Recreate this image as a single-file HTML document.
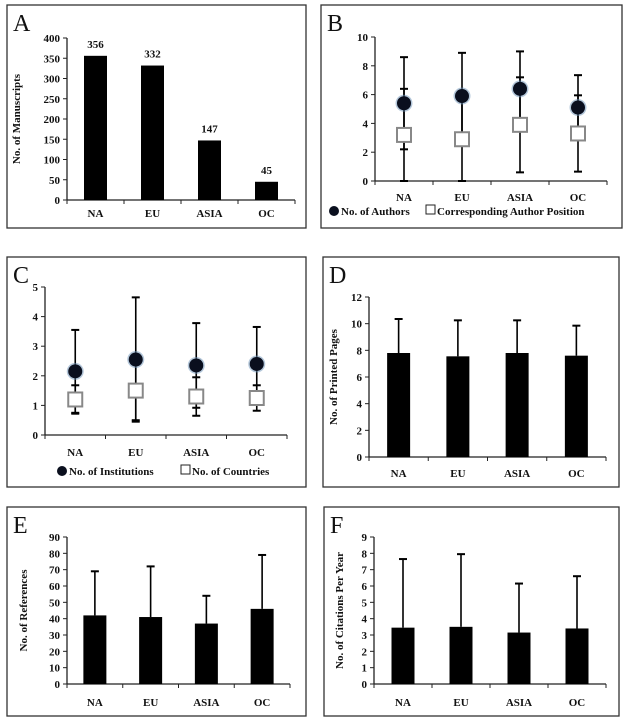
<!DOCTYPE html>
<html><head><meta charset="utf-8"><style>
body{margin:0;background:#fff;width:632px;height:724px;overflow:hidden}
svg{display:block}
text{font-family:"Liberation Serif",serif;fill:#111}
.t{font-size:11px;font-weight:bold}
</style></head><body>
<svg id="s" width="632" height="724"></svg>
<script>
const categories=["NA","EU","ASIA","OC"];
const aCounts=[356,332,147,45];
const bAuthors=[5.4,5.9,6.4,5.1];
const bAuthorsErr=[3.2,3.0,2.6,2.25];
const bCorr=[3.2,2.9,3.9,3.3];
const bCorrErr=[3.2,2.9,3.3,2.65];
const cInst=[2.15,2.55,2.35,2.4];
const cInstErr=[1.4,2.1,1.43,1.25];
const cCountries=[1.2,1.5,1.3,1.25];
const cCountriesErr=[0.48,1.0,0.65,0.43];
const dPages=[7.8,7.55,7.8,7.6];
const dPagesErr=[2.55,2.7,2.45,2.25];
const eRefs=[42,41,37,46];
const eRefsErr=[27,31,17,33];
const fCites=[3.45,3.5,3.15,3.4];
const fCitesErr=[4.2,4.45,3.0,3.2];
const aTicks=[0,50,100,150,200,250,300,350,400];
const bTicks=[0,2,4,6,8,10];
const cTicks=[0,1,2,3,4,5];
const dTicks=[0,2,4,6,8,10,12];
const eTicks=[0,10,20,30,40,50,60,70,80,90];
const fTicks=[0,1,2,3,4,5,6,7,8,9];

const NS="http://www.w3.org/2000/svg";
const S=document.getElementById('s');
function el(tag,attrs,parent,txt){const e=document.createElementNS(NS,tag);for(const k in attrs)e.setAttribute(k,attrs[k]);if(txt!==undefined)e.textContent=txt;(parent||S).appendChild(e);return e;}

function panel(o){
  const g=el('g',{});
  
  
  const b=el('rect',{x:o.bx,y:o.by,width:o.bw,height:o.bh,fill:'none',stroke:'#333','stroke-width':1.3},g);
  
  const L=el('text',{x:o.bx+6,y:o.by+26,'font-size':24},g,o.letter);
  
  const max=o.ticks[o.ticks.length-1];
  const yS=v=>o.y0-(v/max)*(o.y0-o.yTop);
  const step=(o.xEnd-o.ax)/categories.length;
  const xS=i=>o.ax+step*(i+0.5);
  // axes
  const ya=el('line',{x1:o.ax,y1:o.yTop,x2:o.ax,y2:o.y0,stroke:'#222','stroke-width':1.3},g);
  
  const xa=el('line',{x1:o.ax,y1:o.y0,x2:o.xEnd,y2:o.y0,stroke:'#222','stroke-width':1.3},g);
  
  o.ticks.forEach(t=>{
    el('line',{x1:o.ax-4,y1:yS(t),x2:o.ax,y2:yS(t),stroke:'#222'},g);
    const tl=el('text',{x:o.ax-7,y:yS(t)+4,'text-anchor':'end',class:'t'},g,t);
    
  });
  for(let i=0;i<=categories.length;i++)el('line',{x1:o.ax+step*i,y1:o.y0,x2:o.ax+step*i,y2:o.y0+4,stroke:'#222'},g);
  categories.forEach((c,i)=>{
    const cl=el('text',{x:xS(i),y:o.labY,'text-anchor':'middle',class:'t','font-size':12},g,c);
    
  });
  if(o.ytitle){
    const yt=el('text',{transform:`translate(${o.ytx},${(o.yTop+o.y0)/2}) rotate(-90)`,'text-anchor':'middle',class:'t','font-size':11},g,o.ytitle);
    
  }
  function err(x,v,e,top,bottom){
    if(top){el('line',{x1:x,y1:yS(v),x2:x,y2:yS(v+e),stroke:'#000','stroke-width':1.6},g);el('line',{x1:x-4,y1:yS(v+e),x2:x+4,y2:yS(v+e),stroke:'#000','stroke-width':2},g);}
    if(bottom){el('line',{x1:x,y1:yS(v),x2:x,y2:yS(Math.max(0,v-e)),stroke:'#000','stroke-width':1.6},g);el('line',{x1:x-4,y1:yS(Math.max(0,v-e)),x2:x+4,y2:yS(Math.max(0,v-e)),stroke:'#000','stroke-width':2},g);}
  }
  if(o.bars){
    o.bars.forEach((v,i)=>{
      const x=xS(i);
      if(o.barErr)err(x,v,o.barErr[i],true,false);
      const r=el('rect',{x:x-11.5,y:yS(v),width:23,height:o.y0-yS(v),fill:'#000'},g);
      
      if(o.labels){const t=el('text',{x:x,y:yS(v)-8,'text-anchor':'middle',class:'t','font-size':11},g,v);
        }
    });
  }
  if(o.dots){
    o.dots.forEach((v,i)=>{const x=xS(i);err(x,v,o.dotErr[i],true,true);err(x,o.sq[i],o.sqErr[i],true,true);});
    o.sq.forEach((v,i)=>{const x=xS(i);
      const r=el('rect',{x:x-7,y:yS(v)-7,width:14,height:14,fill:'#fff',stroke:'#888','stroke-width':2},g);
      });
    o.dots.forEach((v,i)=>{const x=xS(i);
      el('circle',{cx:x,cy:yS(v),r:8.5,fill:'#6a8fb5',opacity:0.5},g);
      const c=el('circle',{cx:x,cy:yS(v),r:7,fill:'#0a0f1e'},g);
      });
    const lg=el('g',{},g);
    el('circle',{cx:o.lx,cy:o.ly-4,r:5,fill:'#0a0f1e'},lg);
    el('text',{x:o.lx+7,y:o.ly,class:'t','font-size':11.5},lg,o.leg1);
    el('rect',{x:o.lx2,y:o.ly-10,width:9,height:9,fill:'#fff',stroke:'#222'},lg);
    el('text',{x:o.lx2+11,y:o.ly,class:'t','font-size':11.5},lg,o.leg2);
  }
}
panel({letter:'A',bx:7,by:5,bw:299,bh:223,ax:67,xEnd:295,y0:200,yTop:38,ticks:aTicks,labY:217,bars:aCounts,labels:true,ytitle:'No. of Manuscripts',ytx:20});
panel({letter:'B',bx:321,by:5,bw:301,bh:223,ax:375,xEnd:607,y0:181,yTop:37,ticks:bTicks,labY:201,dots:bAuthors,dotErr:bAuthorsErr,sq:bCorr,sqErr:bCorrErr,lx:334,ly:215,lx2:426,leg1:'No. of Authors',leg2:'Corresponding Author Position'});
panel({letter:'C',bx:7,by:257,bw:299,bh:230,ax:45,xEnd:287,y0:435,yTop:287,ticks:cTicks,labY:456,dots:cInst,dotErr:cInstErr,sq:cCountries,sqErr:cCountriesErr,lx:62,ly:475,lx2:181,leg1:'No. of Institutions',leg2:'No. of Countries'});
panel({letter:'D',bx:323,by:257,bw:296,bh:230,ax:369,xEnd:606,y0:457,yTop:297,ticks:dTicks,labY:477,bars:dPages,barErr:dPagesErr,ytitle:'No. of Printed Pages',ytx:337});
panel({letter:'E',bx:7,by:507,bw:299,bh:209,ax:67,xEnd:290,y0:684,yTop:537,ticks:eTicks,labY:706,bars:eRefs,barErr:eRefsErr,ytitle:'No. of References',ytx:27});
panel({letter:'F',bx:324,by:507,bw:295,bh:209,ax:374,xEnd:606,y0:684,yTop:537,ticks:fTicks,labY:706,bars:fCites,barErr:fCitesErr,ytitle:'No. of Citations Per Year',ytx:343});
</script>
</body></html>
